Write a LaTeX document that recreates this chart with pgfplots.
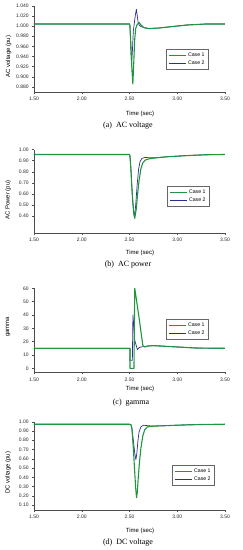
\documentclass[border=0pt]{standalone}
\usepackage{pgfplots}
\pgfplotsset{compat=1.18}
\usepackage{fontspec}
\setmainfont{Liberation Sans}
\newfontfamily\capfont{Liberation Serif}
\definecolor{caseone}{RGB}{30,150,60}
\definecolor{casetwo}{RGB}{45,45,150}
\tikzset{
  c1/.style={color=caseone, draw=caseone, line width=1.1pt, line join=round},
  c2/.style={color=casetwo, draw=casetwo, line width=0.7pt, line join=round},
}
\pgfplotsset{
  panel/.style={
    scale only axis, width=191pt,
    xmin=1.5, xmax=3.5,
    axis lines=left,
    axis line style={-, line width=0.4pt, black!70},
    tick align=outside, major tick length=1.8pt,
    tick style={line width=0.4pt, black!70},
    xtick={1.5,2,2.5,3,3.5},
    xticklabel style={/pgf/number format/.cd, fixed, fixed zerofill, precision=2, /tikz/.cd},
    tick label style={font=\fontsize{5}{6}\selectfont, text=black!85},
    /pgf/number format/assume math mode=true,
    label style={font=\fontsize{6}{7}\selectfont},
    xlabel={Time (sec)},
    legend style={anchor=north west, draw=black!60, line width=0.5pt,
      font=\fontsize{5.2}{5.5}\selectfont, inner xsep=2pt, inner ysep=1.5pt,
      row sep=-1.2pt, /tikz/every even column/.append style={column sep=4pt}},
    legend image post style={line width=0.8pt},
    legend cell align=right,
    reverse legend,
  },
}
\begin{document}
\begin{tikzpicture}
\path[use as bounding box] (0pt,0pt) rectangle (242pt,-550pt);

% (a) AC voltage
\begin{axis}[panel, at={(34pt,-92.1pt)}, anchor=south west, height=86.4pt,
  ymin=0.87, ymax=1.04, ytick={0.88,0.90,...,1.041},
  yticklabel style={/pgf/number format/.cd, fixed, fixed zerofill, precision=3, /tikz/.cd},
  ylabel={AC voltage (pu)},
  ylabel style={at={(axis description cs:-0.133,0.41)}, anchor=center},
  xlabel style={at={(axis description cs:0.555,0)}, anchor=center, yshift=-22pt},
  legend style={at={(axis description cs:0.691,0.499)}}]
\addplot[c2] coordinates {(1.50,1.004) (2.50,1.004) (2.505,1.000) (2.515,0.950) (2.522,0.924) (2.53,0.950) (2.54,0.990) (2.55,1.005) (2.56,1.020) (2.572,1.033) (2.58,1.022) (2.59,1.008) (2.60,1.002) (2.62,0.999) (2.65,0.997) (2.70,0.995) (2.80,0.996) (2.90,0.998) (3.00,1.000) (3.10,1.002) (3.20,1.003) (3.30,1.004) (3.50,1.004)};
\addlegendentry{Case 2}
\addplot[c1] coordinates {(1.50,1.004) (2.50,1.004) (2.505,1.000) (2.515,0.960) (2.525,0.915) (2.535,0.886) (2.545,0.930) (2.555,0.975) (2.565,0.995) (2.58,1.003) (2.60,1.007) (2.62,1.002) (2.65,0.997) (2.70,0.995) (2.80,0.996) (2.90,0.998) (3.00,1.000) (3.10,1.002) (3.20,1.003) (3.30,1.004) (3.50,1.004)};
\addlegendentry{Case 1}
\end{axis}

% (b) AC power
\begin{axis}[panel, at={(34pt,-232.8pt)}, anchor=south west, height=83.3pt,
  ymin=0.25, ymax=1.00, ytick={0.4,0.5,...,1.01},
  yticklabel style={/pgf/number format/.cd, fixed, fixed zerofill, precision=2, /tikz/.cd},
  ylabel={AC Power (pu)},
  ylabel style={at={(axis description cs:-0.136,0.39)}, anchor=center},
  xlabel style={at={(axis description cs:0.555,0)}, anchor=center, yshift=-20pt},
  legend style={at={(axis description cs:0.696,0.562)}}]
\addplot[c2] coordinates {(1.50,0.955) (2.50,0.955) (2.505,0.94) (2.515,0.82) (2.525,0.66) (2.535,0.53) (2.545,0.43) (2.553,0.40) (2.565,0.50) (2.58,0.68) (2.595,0.82) (2.61,0.89) (2.63,0.92) (2.66,0.928) (2.75,0.925) (2.90,0.935) (3.10,0.945) (3.30,0.953) (3.50,0.955)};
\addlegendentry{Case 2}
\addplot[c1] coordinates {(1.50,0.955) (2.50,0.955) (2.505,0.94) (2.515,0.82) (2.525,0.65) (2.535,0.52) (2.545,0.42) (2.555,0.38) (2.57,0.46) (2.585,0.60) (2.60,0.72) (2.62,0.83) (2.64,0.88) (2.665,0.905) (2.70,0.915) (2.75,0.922) (2.90,0.935) (3.10,0.945) (3.30,0.953) (3.50,0.955)};
\addlegendentry{Case 1}
\end{axis}

% (c) gamma
\begin{axis}[panel, at={(34pt,-372.3pt)}, anchor=south west, height=84pt,
  ymin=-3, ymax=60, ytick={0,10,...,60},
  ylabel={gamma},
  ylabel style={at={(axis description cs:-0.136,0.54)}, anchor=center},
  xlabel style={at={(axis description cs:0.555,0)}, anchor=center, yshift=-17pt},
  legend style={at={(axis description cs:0.691,0.634)}}]
\addplot[c2] coordinates {(1.50,15) (2.505,15) (2.505,6) (2.53,6) (2.536,40) (2.545,32) (2.555,21) (2.583,14) (2.60,15.5) (2.62,16) (2.70,16.8) (2.75,17) (2.85,16.6) (3.00,16) (3.20,15.2) (3.50,15)};
\addlegendentry{Case 2}
\addplot[c1] coordinates {(1.50,15) (2.505,15) (2.505,0) (2.547,0) (2.555,60) (2.60,38) (2.64,17) (2.66,16) (2.70,16.8) (2.75,17) (2.85,16.6) (3.00,16) (3.20,15.2) (3.50,15)};
\addlegendentry{Case 1}
\end{axis}

% (d) DC voltage
\begin{axis}[panel, at={(34pt,-509.7pt)}, anchor=south west, height=88pt,
  ymin=0.05, ymax=1.00, ytick={0.1,0.2,...,1.01},
  yticklabel style={/pgf/number format/.cd, fixed, fixed zerofill, precision=2, /tikz/.cd},
  ylabel={DC voltage (pu)},
  ylabel style={at={(axis description cs:-0.136,0.42)}, anchor=center},
  xlabel style={at={(axis description cs:0.555,0)}, anchor=center, yshift=-21pt},
  legend style={at={(axis description cs:0.7225,0.508)}}]
\addplot[c2] coordinates {(1.50,0.972) (2.50,0.972) (2.515,0.968) (2.525,0.93) (2.54,0.80) (2.555,0.66) (2.567,0.59) (2.577,0.66) (2.587,0.78) (2.60,0.89) (2.62,0.945) (2.645,0.962) (2.70,0.956) (2.75,0.953) (2.90,0.958) (3.10,0.966) (3.30,0.971) (3.50,0.972)};
\addlegendentry{Case 2}
\addplot[c1] coordinates {(1.50,0.972) (2.50,0.972) (2.515,0.968) (2.525,0.93) (2.54,0.72) (2.555,0.45) (2.565,0.28) (2.574,0.18) (2.582,0.24) (2.592,0.40) (2.605,0.57) (2.62,0.72) (2.64,0.85) (2.66,0.915) (2.69,0.945) (2.75,0.952) (2.90,0.958) (3.10,0.966) (3.30,0.971) (3.50,0.972)};
\addlegendentry{Case 1}
\end{axis}

\begin{scope}[every node/.style={font=\capfont\fontsize{8}{9}\selectfont, anchor=center}]
\node at (128pt,-126pt) {(a)\enspace AC voltage};
\node at (128pt,-265pt) {(b)\enspace AC power};
\node at (131pt,-402.7pt) {(c)\enspace gamma};
\node at (128pt,-542.3pt) {(d)\enspace DC voltage};
\end{scope}
\end{tikzpicture}
\end{document}
